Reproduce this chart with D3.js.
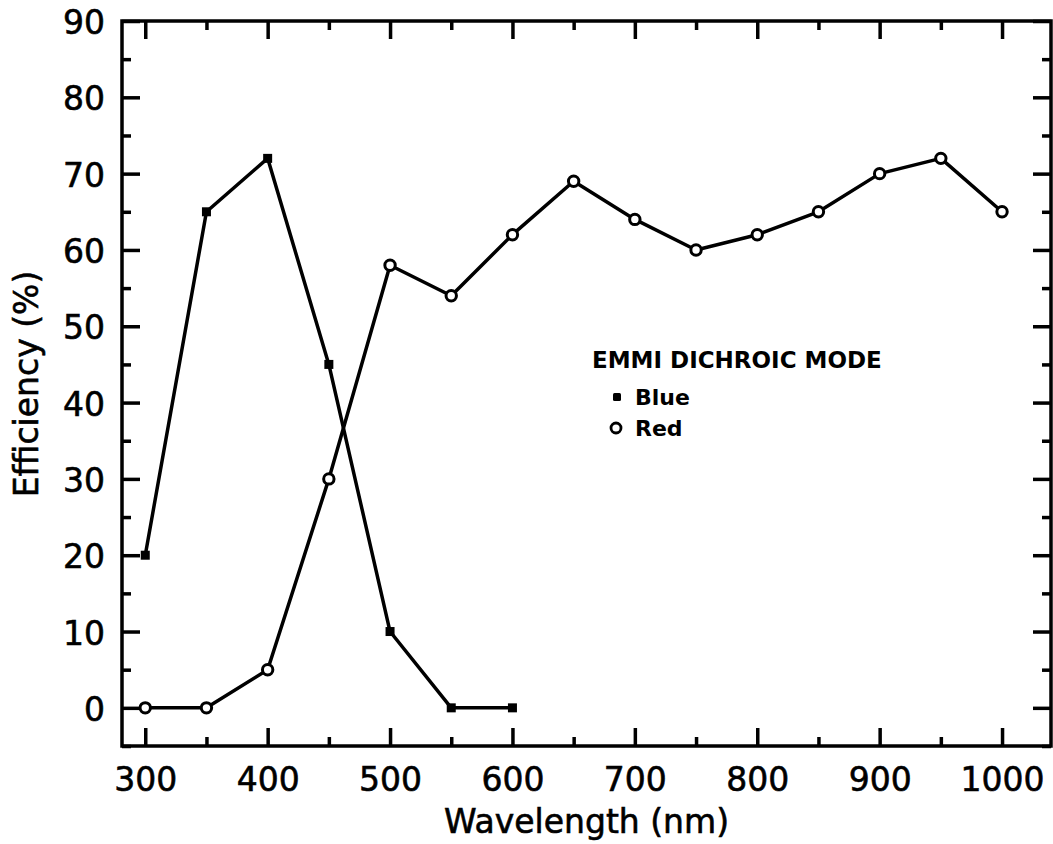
<!DOCTYPE html>
<html>
<head>
<meta charset="utf-8">
<script src="https://cdn.jsdelivr.net/npm/d3@7"></script>
<style>
  html, body { margin: 0; padding: 0; background: #fff; }
  svg { display: block; }
  text { font-family: "DejaVu Sans", sans-serif; fill: #000; }
</style>
</head>
<body>
<svg id="chart" width="1053" height="844"></svg>
<script>
// Efficiency of the two channels of EMMI in dichroic mode
const blueWavelength = [300, 350, 400, 450, 500, 550, 600];
const blueEfficiency = [20, 65, 72, 45, 10, 0, 0];

const redWavelength = [300, 350, 400, 450, 500, 550, 600, 650, 700, 750, 800, 850, 900, 950, 1000];
const redEfficiency = [0, 0, 5, 30, 58, 54, 62, 69, 64, 60, 62, 65, 70, 72, 65];

const xMajorTicks = [300, 400, 500, 600, 700, 800, 900, 1000];
const xMinorTicks = [350, 450, 550, 650, 750, 850, 950];
const yMajorTicks = [0, 10, 20, 30, 40, 50, 60, 70, 80, 90];
const yMinorTicks = [-5, 5, 15, 25, 35, 45, 55, 65, 75, 85];

const legendTitle = "EMMI DICHROIC MODE";
const legendLabels = ["Blue", "Red"];

const plotLeft = 122, plotRight = 1051, plotTop = 21, plotBottom = 746;

const svg = d3.select("#chart");

const x = d3.scaleLinear().domain([281, 1040]).range([plotLeft, plotRight]);
const y = d3.scaleLinear().domain([-5, 90]).range([plotBottom, plotTop]);

const INK = "#000";
const LW = 3.5;

// inward ticks on all four sides
function tickAxis(axisFn, scale, values, size, labels) {
  return axisFn(scale).tickValues(values).tickSize(-size)
    .tickFormat(labels ? d3.format("d") : "");
}

function styleAxis(g) {
  g.select(".domain").remove();
  g.selectAll(".tick line").attr("stroke", INK).attr("stroke-width", LW);
}

// bottom
svg.append("g").attr("transform", `translate(0,${plotBottom})`)
  .call(tickAxis(d3.axisBottom, x, xMinorTicks, 9, false)).call(styleAxis);
const xAxis = svg.append("g").attr("transform", `translate(0,${plotBottom})`)
  .call(tickAxis(d3.axisBottom, x, xMajorTicks, 18, true)).call(styleAxis);
xAxis.selectAll(".tick text")
  .attr("y", 45).attr("dy", null)
  .style("font-size", "33px").style("font-family", "DejaVu Sans")
  .attr("stroke", INK).attr("stroke-width", 0.6);

// top
svg.append("g").attr("transform", `translate(0,${plotTop})`)
  .call(tickAxis(d3.axisTop, x, xMinorTicks, 9, false)).call(styleAxis);
svg.append("g").attr("transform", `translate(0,${plotTop})`)
  .call(tickAxis(d3.axisTop, x, xMajorTicks, 18, false)).call(styleAxis);

// left
svg.append("g").attr("transform", `translate(${plotLeft},0)`)
  .call(tickAxis(d3.axisLeft, y, yMinorTicks, 9, false)).call(styleAxis);
const yAxis = svg.append("g").attr("transform", `translate(${plotLeft},0)`)
  .call(tickAxis(d3.axisLeft, y, yMajorTicks, 18, true)).call(styleAxis);
yAxis.selectAll(".tick text")
  .attr("x", -17).attr("dy", "0.38em")
  .style("font-size", "33px").style("font-family", "DejaVu Sans")
  .attr("stroke", INK).attr("stroke-width", 0.6);

// right
svg.append("g").attr("transform", `translate(${plotRight},0)`)
  .call(tickAxis(d3.axisRight, y, yMinorTicks, 9, false)).call(styleAxis);
svg.append("g").attr("transform", `translate(${plotRight},0)`)
  .call(tickAxis(d3.axisRight, y, yMajorTicks, 18, false)).call(styleAxis);

// frame
svg.append("rect")
  .attr("x", plotLeft).attr("y", plotTop)
  .attr("width", plotRight - plotLeft).attr("height", plotBottom - plotTop)
  .attr("fill", "none").attr("stroke", INK).attr("stroke-width", LW);

// axis titles
svg.append("text")
  .attr("x", (plotLeft + plotRight) / 2).attr("y", 833)
  .attr("text-anchor", "middle")
  .style("font-size", "33px")
  .attr("stroke", INK).attr("stroke-width", 0.6)
  .text("Wavelength (nm)");

svg.append("text")
  .attr("transform", `translate(38,384) rotate(-90)`)
  .attr("text-anchor", "middle")
  .style("font-size", "33px")
  .attr("stroke", INK).attr("stroke-width", 0.6)
  .text("Efficiency (%)");

// series
const blue = blueWavelength.map((w, i) => ({ w, e: blueEfficiency[i] }));
const red = redWavelength.map((w, i) => ({ w, e: redEfficiency[i] }));

const line = d3.line().x(d => x(d.w)).y(d => y(d.e));

svg.append("path").datum(blue)
  .attr("d", line).attr("fill", "none")
  .attr("stroke", INK).attr("stroke-width", LW).attr("stroke-linejoin", "round");

svg.append("path").datum(red)
  .attr("d", line).attr("fill", "none")
  .attr("stroke", INK).attr("stroke-width", LW).attr("stroke-linejoin", "round");

const SQ = 9;
svg.append("g").selectAll("rect").data(blue).join("rect")
  .attr("x", d => x(d.w) - SQ / 2).attr("y", d => y(d.e) - SQ / 2)
  .attr("width", SQ).attr("height", SQ).attr("fill", INK);

svg.append("g").selectAll("circle").data(red).join("circle")
  .attr("cx", d => x(d.w)).attr("cy", d => y(d.e)).attr("r", 5.2)
  .attr("fill", "#fff").attr("stroke", INK).attr("stroke-width", 3);

// legend
svg.append("text")
  .attr("x", 592).attr("y", 368)
  .style("font-size", "23px").style("font-weight", "bold")
  .text(legendTitle);

svg.append("rect")
  .attr("x", 617 - 4).attr("y", 397 - 4).attr("width", 8).attr("height", 8)
  .attr("rx", 1.5).attr("fill", INK);
svg.append("text")
  .attr("x", 635).attr("y", 405)
  .style("font-size", "22px").style("font-weight", "bold")
  .text(legendLabels[0]);

svg.append("circle")
  .attr("cx", 616).attr("cy", 428).attr("r", 5)
  .attr("fill", "#fff").attr("stroke", INK).attr("stroke-width", 2.8);
svg.append("text")
  .attr("x", 635).attr("y", 436)
  .style("font-size", "22px").style("font-weight", "bold")
  .text(legendLabels[1]);
</script>
</body>
</html>
